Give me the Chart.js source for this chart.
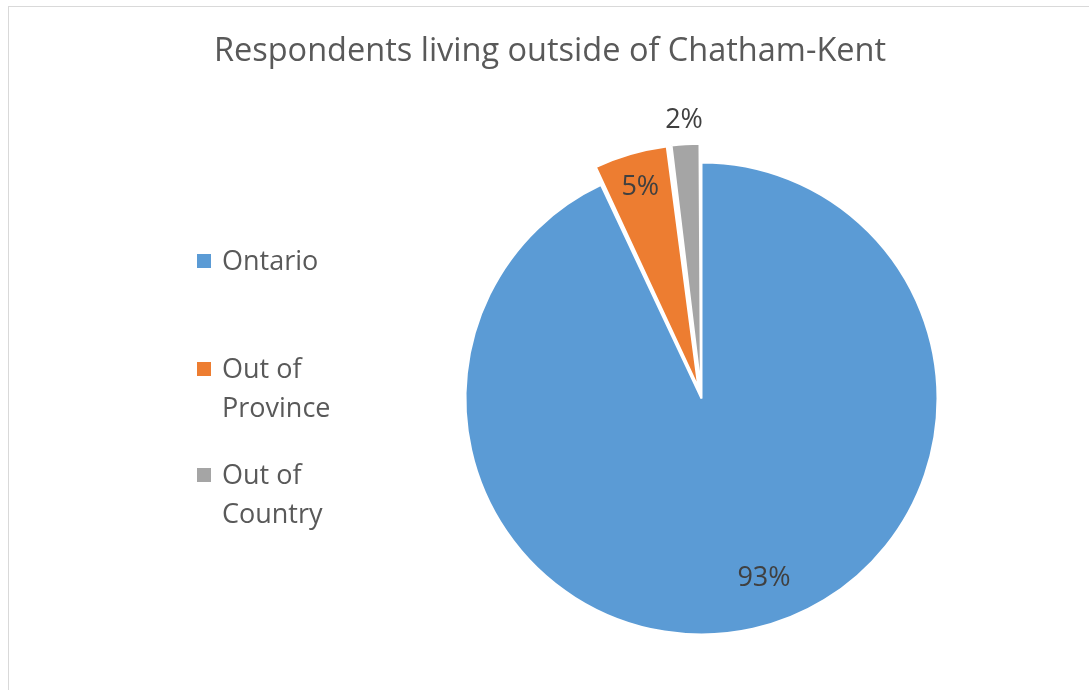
<!DOCTYPE html>
<html lang="en">
  <head>
    <meta charset="UTF-8" />
    <title>Respondents living outside of Chatham-Kent</title>
    <script src="https://cdn.jsdelivr.net/npm/chart.js@4.4.0/dist/chart.umd.min.js"></script>
    <style>
      html, body { margin: 0; padding: 0; background: #fff; overflow: hidden; }
      #wrap { position: relative; width: 1089px; height: 690px; }
      #frame {
        position: absolute; left: 8px; top: 6px; width: 1100px; height: 700px;
        border: 1px solid #d9d9d9; box-sizing: border-box; pointer-events: none;
      }
      canvas { position: absolute; left: 0; top: 0; }
    </style>
  </head>
  <body>
    <div id="wrap">
      <canvas id="myChart" width="1089" height="690"></canvas>
      <div id="frame"></div>
    </div>
    <script>
      const title = "Respondents living outside of Chatham-Kent";
      const labels = ["Ontario", "Out of Province", "Out of Country"];
      const legendLines = [["Ontario"], ["Out of", "Province"], ["Out of", "Country"]];
      const values = [93, 5, 2];
      const colors = ["#5b9bd5", "#ed7d31", "#a5a5a5"];

      // label placement (fraction of radius from centre, angle nudge in degrees)
      const labelDist = [0.805, 0.93, 1.18];
      const labelShift = [-6.6, 0, 0];

      const FONT = "'Open Sans', 'DejaVu Sans', sans-serif";

      const extras = {
        id: "extras",
        afterDraw(chart) {
          const ctx = chart.ctx;
          ctx.save();

          // title
          ctx.fillStyle = "#595959";
          ctx.font = "32.5px " + FONT;
          ctx.textAlign = "center";
          ctx.textBaseline = "middle";
          ctx.fillText(title, 550, 52);

          // legend
          const rows = [261, 369, 475];
          ctx.font = "27px " + FONT;
          ctx.textAlign = "left";
          legendLines.forEach((lines, i) => {
            ctx.fillStyle = colors[i];
            ctx.fillRect(197, rows[i] - 7, 14, 14);
            ctx.fillStyle = "#595959";
            lines.forEach((t, j) => ctx.fillText(t, 222, rows[i] + 1 + j * 39));
          });

          // data labels
          const meta = chart.getDatasetMeta(0);
          const total = values.reduce((a, b) => a + b, 0);
          ctx.fillStyle = "#404040";
          ctx.font = "27px " + FONT;
          ctx.textAlign = "center";
          meta.data.forEach((arc, i) => {
            const p = arc.getProps(["x", "y", "startAngle", "endAngle", "outerRadius"], true);
            const mid = (p.startAngle + p.endAngle) / 2 + labelShift[i] * Math.PI / 180;
            const d = p.outerRadius * labelDist[i];
            const pct = Math.round(values[i] / total * 100) + "%";
            ctx.fillText(pct, p.x + Math.cos(mid) * d, p.y + Math.sin(mid) * d);
          });
          ctx.restore();
        },
      };

      const ctx = document.getElementById("myChart").getContext("2d");
      new Chart(ctx, {
        type: "pie",
        data: {
          labels: labels,
          datasets: [
            {
              data: values,
              backgroundColor: colors,
              borderColor: "#ffffff",
              borderWidth: 2,
              offset: [0, 44, 40],
              radius: 236,
            },
          ],
        },
        options: {
          responsive: false,
          animation: false,
          layout: { padding: { left: 451.5, right: 137.5, top: 148.5, bottom: 41.5 } },
          plugins: {
            legend: { display: false },
            title: { display: false },
            tooltip: { enabled: false },
          },
        },
        plugins: [extras],
      });
    </script>
  </body>
</html>
